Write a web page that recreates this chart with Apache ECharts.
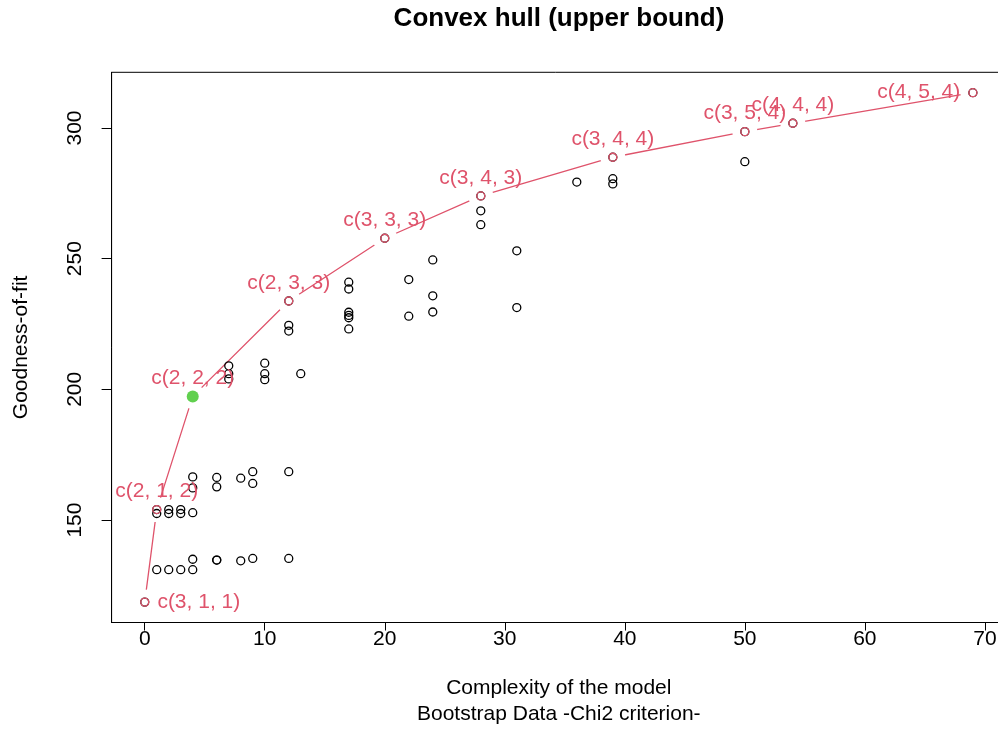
<!DOCTYPE html>
<html>
<head>
<meta charset="utf-8">
<script src="https://cdn.jsdelivr.net/npm/echarts@6/dist/echarts.min.js"></script>
<style>
  html, body { margin: 0; padding: 0; background: #fff; }
  #chart { width: 998px; height: 756px; }
</style>
</head>
<body>
<div id="chart"></div>
<script>
// ---- data ----
const cloudX = [1,1, 2,2,2, 3,3,3, 4,4,4,4,4, 6,6,6,6, 7,7,7, 8,8, 9,9,9, 10,10,10, 12,12,12,12, 13, 17,17,17,17,17,17, 22,22, 24,24,24, 28,28, 31,31, 36, 39,39, 50];
const cloudY = [152.5,131, 154,152.5,131, 154,152.5,131, 152.8,162.3,166.5,131,135, 162.7,166.3,134.7,134.7, 209,206,204, 166,134.4, 164,168.5,135.3, 210,206,203.7, 224.5,222.3,168.5,135.3, 206, 241,238.4,229.5,228.3,227.4,223.1, 242,228, 249.5,235.8,229.6, 268.3,263, 253,231.3, 279.3, 280.6,278.6, 287.1];

const hullX = [0, 1, 4, 12, 20, 28, 39, 50, 54, 69];
const hullY = [118.6, 154, 197.3, 233.8, 257.8, 274, 288.8, 298.6, 301.8, 313.5];
const hullLabels = ['c(3, 1, 1)', 'c(2, 1, 2)', 'c(2, 2, 2)', 'c(2, 3, 3)', 'c(3, 3, 3)', 'c(3, 4, 3)', 'c(3, 4, 4)', 'c(3, 5, 4)', 'c(4, 4, 4)', 'c(4, 5, 4)'];

const selectedX = [4];
const selectedY = [197.3];

const xTicks = [0, 10, 20, 30, 40, 50, 60, 70];
const yTicks = [150, 200, 250, 300];

const titleText = 'Convex hull (upper bound)';
const xTitle = 'Complexity of the model\nBootstrap Data -Chi2 criterion-';
const yTitle = 'Goodness-of-fit';

// ---- chart ----
const FONT = '"Liberation Sans", Arial, Helvetica, sans-serif';
const RED = '#DF536B';

const zip = (xs, ys) => xs.map((x, i) => [x, ys[i]]);

const hullPairs = zip(hullX, hullY);
const allBlack = zip(cloudX, cloudY).concat(hullPairs);

const hullItems = hullPairs.map((p, i) => {
  let pos = 'top', dist = 3;
  if (i === 0) { pos = 'right'; dist = 8; }
  else if (i === hullPairs.length - 1) { pos = 'left'; dist = 8; }
  return { value: p, name: hullLabels[i], label: { position: pos, distance: dist } };
});

const xMin = -0.04 * 69, xMax = 69 + 0.04 * 69;
const yMin = 110.8, yMax = 321.3;

const axisLineStyle = { show: true, onZero: false, lineStyle: { color: '#000', width: 1 } };

const chart = echarts.init(document.getElementById('chart'), null, { renderer: 'canvas' });
chart.setOption({
  animation: false,
  backgroundColor: '#fff',
  textStyle: { fontFamily: FONT },
  graphic: [{
    type: 'text',
    x: 559, y: 19, z: 10,
    style: {
      text: titleText,
      align: 'center', verticalAlign: 'middle',
      font: 'bold 26px ' + FONT,
      fill: '#000'
    }
  }],
  grid: {
    left: 111.6, width: 894.4, top: 72.3, bottom: 133.5,
    outerBoundsMode: 'none', containLabel: false,
    show: true, borderColor: '#000', borderWidth: 1, backgroundColor: 'transparent'
  },
  xAxis: {
    type: 'value', min: xMin, max: xMax,
    name: xTitle, nameLocation: 'middle', nameGap: 53,
    nameTextStyle: { color: '#000', fontSize: 21, lineHeight: 26, fontFamily: FONT },
    axisLine: axisLineStyle,
    splitLine: { show: false },
    axisTick: { show: true, length: 8, customValues: xTicks, lineStyle: { color: '#000', width: 1 } },
    axisLabel: { customValues: xTicks, color: '#000', fontSize: 21, margin: 6, fontFamily: FONT }
  },
  yAxis: {
    type: 'value', min: yMin, max: yMax,
    name: yTitle, nameLocation: 'middle', nameGap: 80, nameRotate: 90,
    nameTextStyle: { color: '#000', fontSize: 21, fontFamily: FONT },
    axisLine: axisLineStyle,
    splitLine: { show: false },
    axisTick: { show: true, length: 10, customValues: yTicks, lineStyle: { color: '#000', width: 1 } },
    axisLabel: { customValues: yTicks, color: '#000', fontSize: 21, margin: 26, rotate: 90, fontFamily: FONT }
  },
  series: [
    {
      type: 'line', data: hullPairs, silent: true, z: 1,
      lineStyle: { color: RED, width: 1.3 },
      symbol: 'circle', symbolSize: 25,
      itemStyle: { color: '#fff', borderWidth: 0, opacity: 1 },
      showAllSymbol: true
    },
    {
      type: 'scatter', data: allBlack, silent: true, z: 3,
      symbol: 'circle', symbolSize: 8,
      itemStyle: { color: 'rgba(0,0,0,0)', borderColor: '#000', borderWidth: 1.3, opacity: 1 }
    },
    {
      type: 'scatter', data: hullItems, silent: true, z: 4,
      symbol: 'circle', symbolSize: 8,
      itemStyle: { color: 'rgba(0,0,0,0)', borderColor: RED, borderWidth: 1.3, opacity: 1 },
      label: {
        show: true, formatter: '{b}', color: RED, fontSize: 21, fontFamily: FONT
      },
      labelLayout: { hideOverlap: false }
    },
    {
      type: 'scatter', data: zip(selectedX, selectedY), silent: true, z: 5,
      symbol: 'circle', symbolSize: 12,
      itemStyle: { color: '#61D04F', opacity: 1 }
    }
  ]
});
</script>
</body>
</html>
